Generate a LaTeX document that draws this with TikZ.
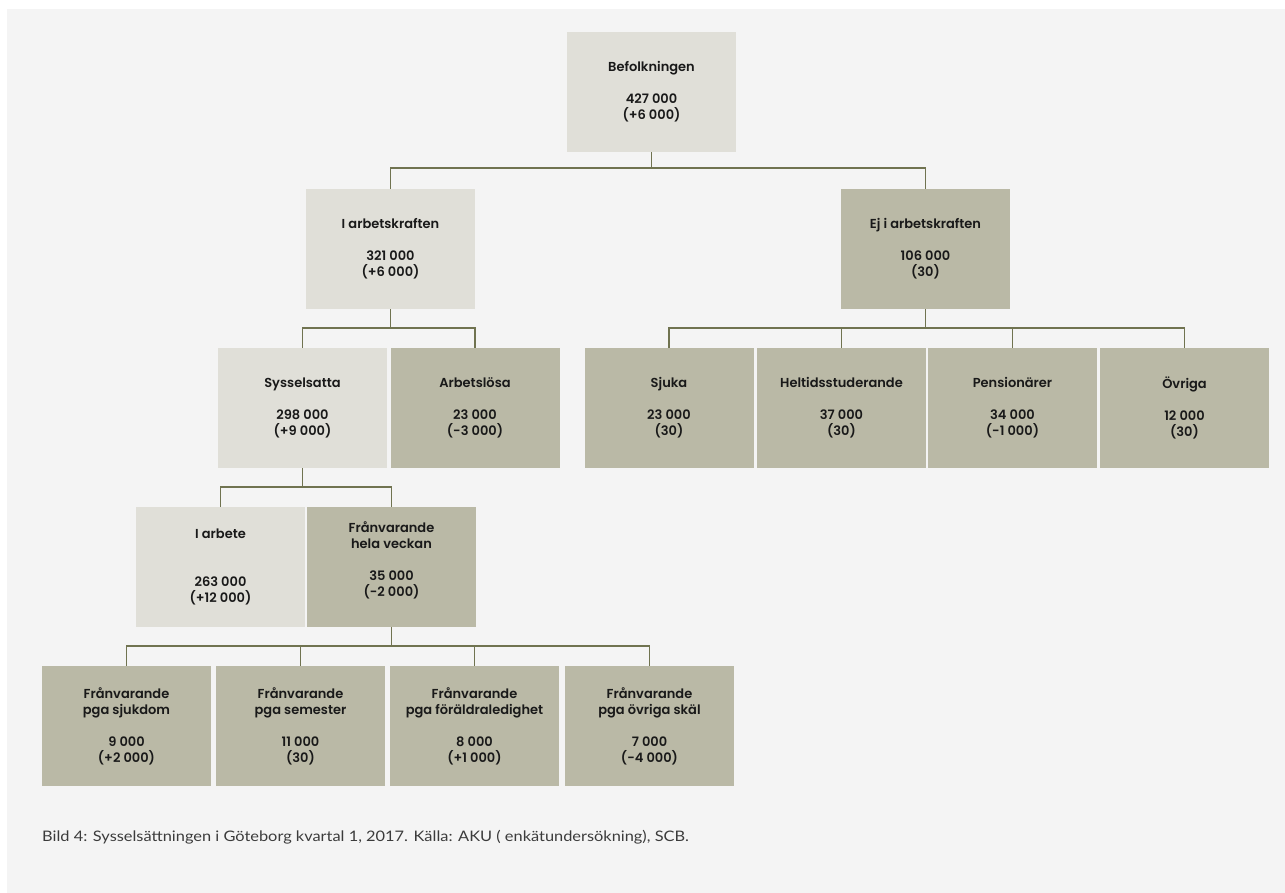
\documentclass[tikz,border=0pt]{standalone}
\usepackage{fontspec}
\usepackage{xcolor}
\usepackage{tikz}
\setmainfont{Lato}
\newfontfamily\boxfont{Poppins SemiBold}
\newfontfamily\capfont{Lato}[FakeStretch=1.13]
\definecolor{panelgray}{RGB}{244,244,244}
\definecolor{lightbox}{RGB}{224,223,216}
\definecolor{darkbox}{RGB}{186,185,166}
\definecolor{olive}{RGB}{112,115,80}
\definecolor{textgray}{RGB}{25,25,25}
\tikzset{
    box/.style={rectangle, inner sep=0pt, minimum width=169pt, minimum height=120pt, align=center, text=textgray, font=\boxfont\fontsize{13}{16}\selectfont},
    lbox/.style={box, fill=lightbox},
    dbox/.style={box, fill=darkbox},
    conn/.style={draw=olive, line width=1.2pt},
    caption/.style={anchor=west, inner sep=0pt, text=textgray!85, font=\capfont\fontsize{14.5}{17}\selectfont}}

\begin{document}
\begin{tikzpicture}[x=1pt,y=-1pt]
\useasboundingbox (0,0) rectangle (1285,893);
\fill[panelgray] (7,9) rectangle (1285,893);

% box centres
\coordinate (Bef) at (651.5,92);
\coordinate (IAK) at (390.5,249);
\coordinate (EJ) at (925.5,249);
\coordinate (SYS) at (302.5,408);
\coordinate (ARB) at (475,408);
\coordinate (SJU) at (669,408);
\coordinate (HEL) at (841.5,408);
\coordinate (PEN) at (1012.5,408);
\coordinate (OVR) at (1184.5,408);
\coordinate (IAR) at (220.5,567);
\coordinate (FHV) at (391.5,567);
\coordinate (F1) at (126.5,726);
\coordinate (F2) at (300.5,726);
\coordinate (F3) at (474.5,726);
\coordinate (F4) at (649.5,726);

% bus lines
\coordinate (bus1) at (0,168);
\coordinate (bus2) at (0,328);
\coordinate (bus3) at (0,487);
\coordinate (bus4) at (0,646);

\node[lbox] (bef) at (Bef) {Befolkningen\\[16pt]427 000\\(+6 000)};
\node[lbox] (iak) at (IAK) {I arbetskraften\\[16pt]321 000\\(+6 000)};
\node[dbox] (ej) at (EJ) {Ej i arbetskraften\\[16pt]106 000\\(30)};
\node[lbox] (sys) at (SYS) {Sysselsatta\\[16pt]298 000\\(+9 000)};
\node[dbox] (arb) at (ARB) {Arbetslösa\\[16pt]23 000\\(-3 000)};
\node[dbox] (sju) at (SJU) {Sjuka\\[16pt]23 000\\(30)};
\node[dbox] (hel) at (HEL) {Heltidsstuderande\\[16pt]37 000\\(30)};
\node[dbox] (pen) at (PEN) {Pensionärer\\[16pt]34 000\\(-1 000)};
\node[dbox] (ovr) at (OVR) {Övriga\\[16pt]12 000\\(30)};
\node[lbox] (iar) at (IAR) {I arbete\\[32pt]263 000\\(+12 000)};
\node[dbox] (fhv) at (FHV) {Frånvarande\\hela veckan\\[16pt]35 000\\(-2 000)\\~};
\node[dbox] (f1) at (F1) {Frånvarande\\pga sjukdom\\[16pt]9 000\\(+2 000)};
\node[dbox] (f2) at (F2) {Frånvarande\\pga semester\\[16pt]11 000\\(30)};
\node[dbox] (f3) at (F3) {Frånvarande\\pga föräldraledighet\\[16pt]8 000\\(+1 000)};
\node[dbox] (f4) at (F4) {Frånvarande\\pga övriga skäl\\[16pt]7 000\\(-4 000)};

\draw[conn] (bef.south) -- (bef.south |- bus1);
\draw[conn] (iak.north) |- (bus1 -| ej.north) -- (ej.north);

\draw[conn] (iak.south) -- (iak.south |- bus2);
\draw[conn] (sys.north) |- (bus2 -| arb.north) -- (arb.north);
\draw[conn] (ej.south) -- (ej.south |- bus2);
\draw[conn] (sju.north) |- (bus2 -| ovr.north) -- (ovr.north);
\draw[conn] (hel.north) -- (hel.north |- bus2);
\draw[conn] (pen.north) -- (pen.north |- bus2);

\draw[conn] (sys.south) -- (sys.south |- bus3);
\draw[conn] (iar.north) |- (bus3 -| fhv.north) -- (fhv.north);

\draw[conn] (fhv.south) -- (fhv.south |- bus4);
\draw[conn] (f1.north) |- (bus4 -| f4.north) -- (f4.north);
\draw[conn] (f2.north) -- (f2.north |- bus4);
\draw[conn] (f3.north) -- (f3.north |- bus4);

\node[caption] (cap) at (42,837) {Bild 4: Sysselsättningen i Göteborg kvartal 1, 2017. Källa: AKU ( enkätundersökning), SCB.};
\end{tikzpicture}
\end{document}
